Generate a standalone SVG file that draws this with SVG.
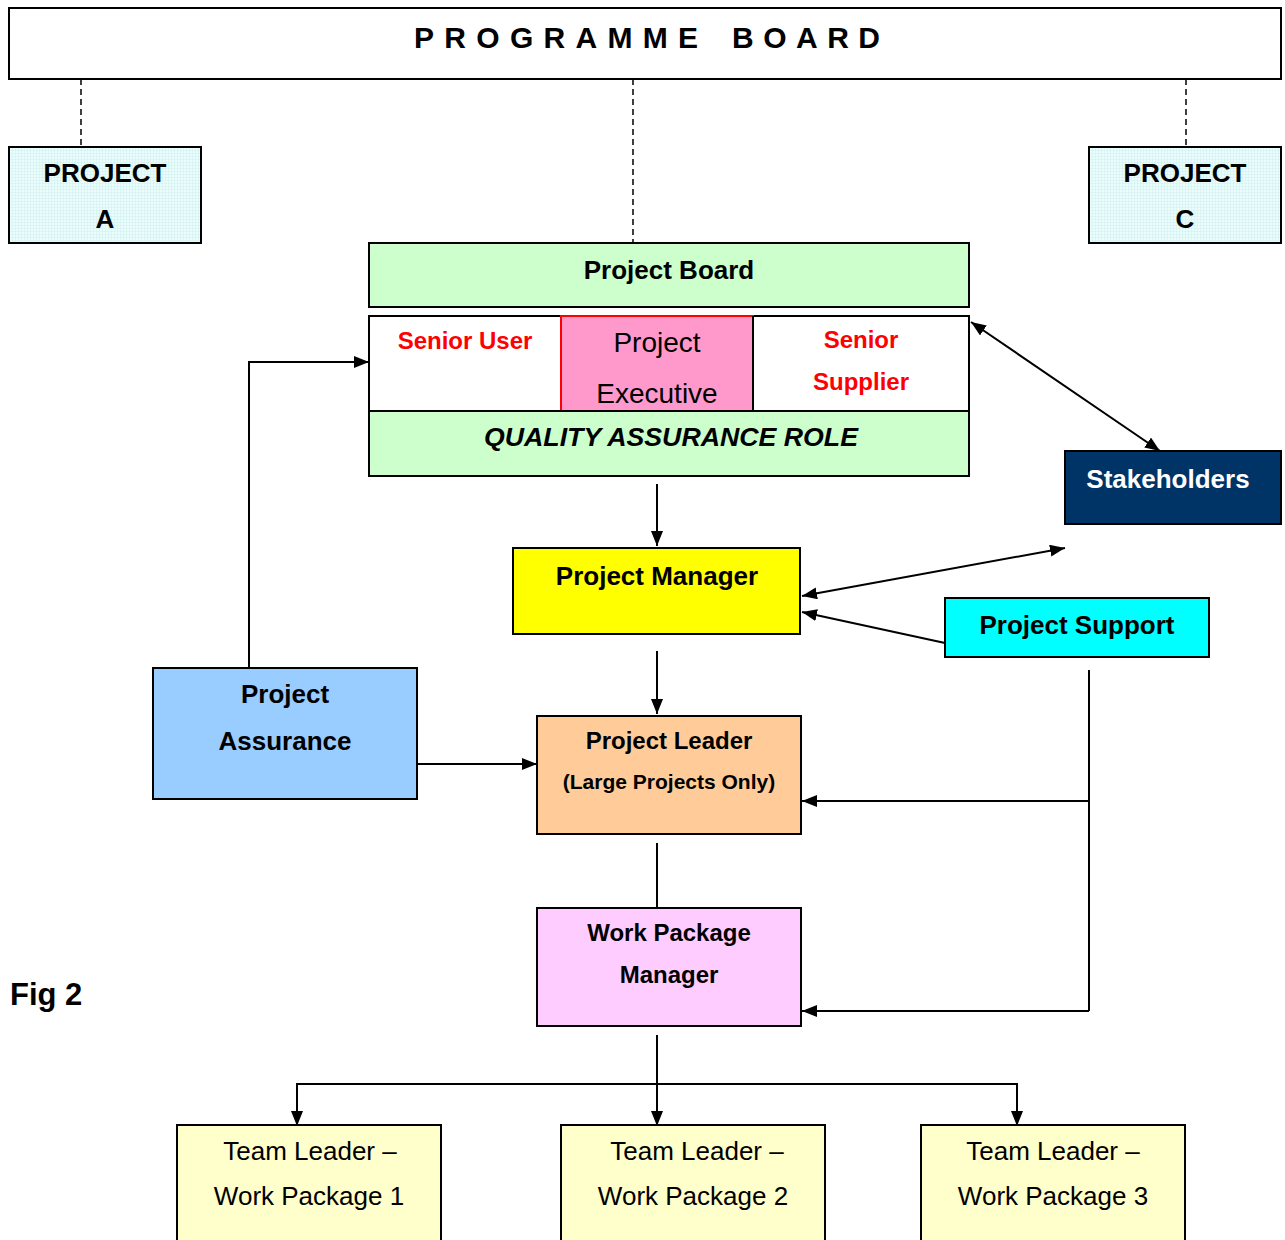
<svg xmlns="http://www.w3.org/2000/svg" width="1285" height="1240" viewBox="0 0 1285 1240">
<style>
text{font-family:"Liberation Sans",Arial,sans-serif;text-anchor:middle}
.b{font-weight:bold}
.box{stroke:#000;stroke-width:2}
.c{fill:none;stroke:#000;stroke-width:2}
.d{fill:none;stroke:#000;stroke-width:1.5;stroke-dasharray:6,4}
</style>
<defs>
<pattern id="grid" width="3" height="3" patternUnits="userSpaceOnUse">
<rect width="3" height="3" fill="#eafcfc"/>
<path d="M0 0.5H3M0.5 0V3" stroke="#d2f0f0" stroke-width="0.6"/>
</pattern>
<marker id="ah" viewBox="0 0 15 12" refX="15" refY="6" markerWidth="15" markerHeight="12" markerUnits="userSpaceOnUse" orient="auto-start-reverse">
<path d="M0 0L15 6L0 12z" fill="#000"/>
</marker>
</defs>
<rect width="1285" height="1240" fill="#fff"/>

<g id="connectors">
<line class="d" x1="81" y1="79" x2="81" y2="150"/>
<line class="d" x1="633" y1="79" x2="633" y2="243"/>
<line class="d" x1="1186" y1="79" x2="1186" y2="150"/>
<polyline class="c" points="249,668 249,362 369,362" marker-end="url(#ah)"/>
<line class="c" x1="971" y1="322" x2="1160" y2="451" marker-start="url(#ah)" marker-end="url(#ah)"/>
<line class="c" x1="657" y1="484" x2="657" y2="546" marker-end="url(#ah)"/>
<line class="c" x1="802" y1="596" x2="1065" y2="548" marker-start="url(#ah)" marker-end="url(#ah)"/>
<line class="c" x1="945" y1="643" x2="802" y2="612" marker-end="url(#ah)"/>
<line class="c" x1="657" y1="651" x2="657" y2="714" marker-end="url(#ah)"/>
<line class="c" x1="417" y1="764" x2="537" y2="764" marker-end="url(#ah)"/>
<line class="c" x1="1089" y1="670" x2="1089" y2="1011"/>
<line class="c" x1="1089" y1="801" x2="802" y2="801" marker-end="url(#ah)"/>
<line class="c" x1="1089" y1="1011" x2="802" y2="1011" marker-end="url(#ah)"/>
<line class="c" x1="657" y1="843" x2="657" y2="908"/>
<line class="c" x1="657" y1="1035" x2="657" y2="1126" marker-end="url(#ah)"/>
<polyline class="c" points="297,1126 297,1084 1017,1084 1017,1126" marker-start="url(#ah)" marker-end="url(#ah)"/>
</g>

<g id="programme-board">
<rect class="box" x="9" y="8" width="1272" height="71" fill="#fff"/>
<text class="b" x="414" y="48" font-size="30" style="text-anchor:start" textLength="284" lengthAdjust="spacing">PROGRAMME</text>
<text class="b" x="732" y="48" font-size="30" style="text-anchor:start" textLength="148" lengthAdjust="spacing">BOARD</text>
</g>

<g id="project-a">
<rect class="box" x="9" y="147" width="192" height="96" fill="url(#grid)"/>
<text class="b" x="105" y="182" font-size="26">PROJECT</text>
<text class="b" x="105" y="228" font-size="26">A</text>
</g>

<g id="project-c">
<rect class="box" x="1089" y="147" width="192" height="96" fill="url(#grid)"/>
<text class="b" x="1185" y="182" font-size="26">PROJECT</text>
<text class="b" x="1185" y="228" font-size="26">C</text>
</g>

<g id="project-board">
<rect class="box" x="369" y="243" width="600" height="64" fill="#ccffcc"/>
<text class="b" x="669" y="279" font-size="26">Project Board</text>
</g>

<g id="board-roles">
<rect class="box" x="369" y="316" width="600" height="95" fill="#fff"/>
<rect x="561" y="316" width="192" height="95" fill="#ff99cc" stroke="#ff0000" stroke-width="2"/>
<line x1="753" y1="316" x2="753" y2="411" stroke="#000" stroke-width="2"/>
<text class="b" x="465" y="349" font-size="24" fill="#ff0000">Senior User</text>
<text x="657" y="352" font-size="28">Project</text>
<text x="657" y="403" font-size="28">Executive</text>
<text class="b" x="861" y="348" font-size="24" fill="#ff0000">Senior</text>
<text class="b" x="861" y="390" font-size="24" fill="#ff0000">Supplier</text>
</g>

<g id="quality-assurance">
<rect class="box" x="369" y="411" width="600" height="65" fill="#ccffcc"/>
<text class="b" x="671" y="446" font-size="26" font-style="italic" textLength="374" lengthAdjust="spacingAndGlyphs">QUALITY ASSURANCE ROLE</text>
</g>

<g id="stakeholders">
<rect class="box" x="1065" y="451" width="216" height="73" fill="#003366"/>
<text class="b" x="1168" y="488" font-size="26" fill="#fff">Stakeholders</text>
</g>

<g id="project-manager">
<rect class="box" x="513" y="548" width="287" height="86" fill="#ffff00"/>
<text class="b" x="657" y="585" font-size="26">Project Manager</text>
</g>

<g id="project-support">
<rect class="box" x="945" y="598" width="264" height="59" fill="#00ffff"/>
<text class="b" x="1077" y="634" font-size="26">Project Support</text>
</g>

<g id="project-assurance">
<rect class="box" x="153" y="668" width="264" height="131" fill="#99ccff"/>
<text class="b" x="285" y="703" font-size="26">Project</text>
<text class="b" x="285" y="750" font-size="26">Assurance</text>
</g>

<g id="project-leader">
<rect class="box" x="537" y="716" width="264" height="118" fill="#ffcc99"/>
<text class="b" x="669" y="749" font-size="24">Project Leader</text>
<text class="b" x="669" y="789" font-size="21">(Large Projects Only)</text>
</g>

<g id="work-package-manager">
<rect class="box" x="537" y="908" width="264" height="118" fill="#ffccff"/>
<text class="b" x="669" y="941" font-size="24">Work Package</text>
<text class="b" x="669" y="983" font-size="24">Manager</text>
</g>

<g id="fig-label">
<text class="b" x="10" y="1005" font-size="31" style="text-anchor:start">Fig 2</text>
</g>

<g id="team-leader-1">
<rect class="box" x="177" y="1125" width="264" height="130" fill="#ffffcc"/>
<text x="310" y="1160" font-size="26">Team Leader –</text>
<text x="309" y="1205" font-size="26">Work Package 1</text>
</g>

<g id="team-leader-2">
<rect class="box" x="561" y="1125" width="264" height="130" fill="#ffffcc"/>
<text x="697" y="1160" font-size="26">Team Leader –</text>
<text x="693" y="1205" font-size="26">Work Package 2</text>
</g>

<g id="team-leader-3">
<rect class="box" x="921" y="1125" width="264" height="130" fill="#ffffcc"/>
<text x="1053" y="1160" font-size="26">Team Leader –</text>
<text x="1053" y="1205" font-size="26">Work Package 3</text>
</g>
</svg>
